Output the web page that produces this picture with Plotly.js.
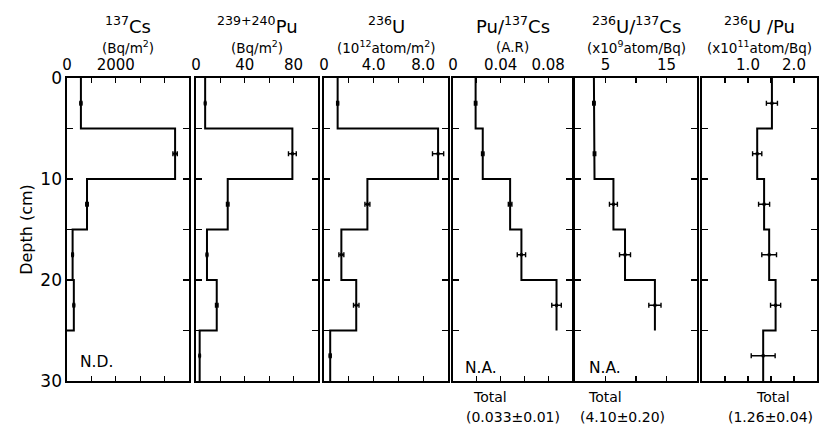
<!DOCTYPE html>
<html>
<head>
<meta charset="utf-8">
<script src="https://cdn.plot.ly/plotly-3.0.1.min.js"></script>
<style>html,body{margin:0;padding:0;background:#fff;}#chart{width:820px;height:431px;}</style>
</head>
<body>
<div id="chart"></div>
<script>
// ---- data ----
const depthTop = [0, 5, 10, 15, 20, 25];
const depthBot = [5, 10, 15, 20, 25, 30];
const depthMid = [2.5, 7.5, 12.5, 17.5, 22.5, 27.5];

const cs137    = [570, 4430, 820, 230, 280, null];      // Bq/m2, 25-30 N.D.
const cs137Err = [40, 90, 50, 30, 30, null];
const pu       = [7.5, 79, 26, 9, 17, 3];                // Bq/m2
const puErr    = [0.5, 3.2, 1.0, 0.6, 1.0, 0.3];
const u236     = [1.1, 9.2, 3.5, 1.4, 2.6, 0.5];         // 1e12 atom/m2
const u236Err  = [0.08, 0.45, 0.2, 0.2, 0.22, 0.08];
const puCs     = [0.019, 0.025, 0.048, 0.0575, 0.087, null]; // activity ratio
const puCsErr  = [0.001, 0.001, 0.0015, 0.0035, 0.004, null];
const uCs      = [3.1, 3.2, 6.3, 8.2, 13.1, null];       // x1e9 atom/Bq
const uCsErr   = [0.2, 0.2, 0.65, 0.9, 1.0, null];
const uPu      = [1.52, 1.2, 1.35, 1.46, 1.6, 1.33];     // x1e11 atom/Bq
const uPuErr   = [0.12, 0.1, 0.12, 0.16, 0.11, 0.26];

const titles = ['<sup>137</sup>Cs', '<sup>239+240</sup>Pu', '<sup>236</sup>U', 'Pu/<sup>137</sup>Cs', '<sup>236</sup>U/<sup>137</sup>Cs', '<sup>236</sup>U /Pu'];
const units  = ['(Bq/m<sup>2</sup>)', '(Bq/m<sup>2</sup>)', '(10<sup>12</sup>atom/m<sup>2</sup>)', '(A.R)', '(x10<sup>9</sup>atom/Bq)', '(x10<sup>11</sup>atom/Bq)'];
const ranges = [[0, 5000], [0, 100], [0, 10], [0, 0.1], [0, 20], [0, 2.5]];
const majorVals = [[0, 2000], [0, 40, 80], [0, 4, 8], [0, 0.04, 0.08], [5, 15], [1.0, 2.0]];
const majorText = [['0', '2000'], ['0', '40', '80'], ['0', '4.0', '8.0'], ['0', '0.04', '0.08'], ['5', '15'], ['1.0', '2.0']];
const minorVals = [[1000, 3000, 4000], [20, 60], [2, 6], [0.02, 0.06], [10], [0.5, 1.5]];
const depthMajor = [0, 10, 20, 30];
const depthMajorText = ['0', '10', '20', '30'];
const depthMinor = [5, 15, 25];

const totalsLbl = ['', '', '', '(0.033\u00B10.01)', '(4.10\u00B10.20)', '(1.26\u00B10.04)'];

// ---- layout geometry (pixels) ----
const W = 820, H = 431;
const panelPx = [[67, 189], [196, 318], [324, 448], [453, 572], [575, 697], [702, 817]];
const totalsX = [0, 0, 0, 513, 622, 770];
const plotTop = 78, plotBot = 381;
const px = x => x / W;
const py = y => 1 - y / H;

const series = [cs137, pu, u236, puCs, uCs, uPu];
const errs   = [cs137Err, puErr, u236Err, puCsErr, uCsErr, uPuErr];
const closeToAxis = [true, false, false, false, false, false];

function stepPath(vals, close) {
  const xs = [], ys = [];
  let last = -1;
  for (let i = 0; i < vals.length; i++) {
    if (vals[i] === null) break;
    xs.push(vals[i], vals[i]);
    ys.push(depthTop[i], depthBot[i]);
    last = i;
  }
  if (close && last >= 0) { xs.push(0); ys.push(depthBot[last]); }
  return {xs, ys};
}

const FONT = 'DejaVu Sans, Liberation Sans, Arial, sans-serif';
const traces = [];
const layout = {
  width: W, height: H,
  margin: {l: 0, r: 0, t: 0, b: 0, pad: 0},
  paper_bgcolor: '#fff', plot_bgcolor: '#fff',
  showlegend: false,
  font: {family: FONT, color: '#000'},
  annotations: []
};

for (let k = 0; k < 6; k++) {
  const n = k + 1;
  const xa = 'x' + (n === 1 ? '' : n), ya = 'y' + (n === 1 ? '' : n);
  const sp = stepPath(series[k], closeToAxis[k]);
  traces.push({x: sp.xs, y: sp.ys, xaxis: xa, yaxis: ya, mode: 'lines', type: 'scatter',
               line: {color: '#000', width: 2}, hoverinfo: 'skip'});
  const mx = [], my = [], me = [];
  series[k].forEach((v, i) => { if (v !== null) { mx.push(v); my.push(depthMid[i]); me.push(errs[k][i]); } });
  traces.push({x: mx, y: my, xaxis: xa, yaxis: ya, mode: 'markers', type: 'scatter',
               marker: {color: '#000', size: 3, symbol: 'square'},
               error_x: {type: 'data', array: me, visible: true, color: '#000', thickness: 1.4, width: 2.5},
               hoverinfo: 'skip'});

  const xKey = 'xaxis' + (n === 1 ? '' : n), yKey = 'yaxis' + (n === 1 ? '' : n);
  layout[xKey] = {
    domain: [px(panelPx[k][0]), px(panelPx[k][1])],
    anchor: ya, side: 'top', range: ranges[k], fixedrange: true,
    showline: true, mirror: 'ticks', linecolor: '#000', linewidth: 1.6,
    ticks: 'inside', ticklen: 5, tickwidth: 1.3, tickcolor: '#000',
    tickmode: 'array', tickvals: majorVals[k], ticktext: majorText[k],
    minor: {tickmode: 'array', tickvals: minorVals[k], ticks: 'inside', ticklen: 5, tickwidth: 1.3, tickcolor: '#000', showgrid: false},
    tickfont: {family: FONT, size: 15, color: '#000'},
    showgrid: false, zeroline: false
  };
  layout[yKey] = {
    domain: [py(plotBot), py(plotTop)],
    anchor: xa, range: [30, 0], fixedrange: true,
    showline: true, mirror: 'ticks', linecolor: '#000', linewidth: 1.6,
    ticks: 'inside', ticklen: 6, tickwidth: 1.3, tickcolor: '#000',
    tickmode: 'array', tickvals: depthMajor, ticktext: depthMajorText,
    minor: {tickmode: 'array', tickvals: depthMinor, ticks: 'inside', ticklen: 6, tickwidth: 1.3, tickcolor: '#000', showgrid: false},
    showticklabels: n === 1,
    tickfont: {family: FONT, size: 17, color: '#000'},
    showgrid: false, zeroline: false
  };
  if (n === 1) {
    layout[yKey].title = {text: 'Depth (cm)', font: {family: FONT, size: 16, color: '#000'}, standoff: 4};
  }

  const cx = (panelPx[k][0] + panelPx[k][1]) / 2;
  layout.annotations.push({xref: 'paper', yref: 'paper', x: px(cx), y: py(25), text: titles[k],
    showarrow: false, xanchor: 'center', yanchor: 'middle', font: {family: FONT, size: 18, color: '#000'}});
  layout.annotations.push({xref: 'paper', yref: 'paper', x: px(cx), y: py(47), text: units[k],
    showarrow: false, xanchor: 'center', yanchor: 'middle', font: {family: FONT, size: 13.5, color: '#000'}});
  if (totalsLbl[k]) {
    layout.annotations.push({xref: 'paper', yref: 'paper', x: px(totalsX[k]), y: py(417), text: totalsLbl[k],
      showarrow: false, xanchor: 'center', yanchor: 'middle', font: {family: FONT, size: 14, color: '#000'}});
  }
}

// notes inside panels and "Total" headings
const notes = [
  {t: 'N.D.', x: 78, y: 362, s: 15.5},
  {t: 'N.A.', x: 463, y: 368, s: 15.5},
  {t: 'N.A.', x: 587, y: 368, s: 15.5},
  {t: 'Total', x: 471, y: 397, s: 14},
  {t: 'Total', x: 586, y: 397, s: 14},
  {t: 'Total', x: 754, y: 397, s: 14}
];
notes.forEach(nt => layout.annotations.push({xref: 'paper', yref: 'paper', x: px(nt.x), y: py(nt.y), text: nt.t,
  showarrow: false, xanchor: 'left', yanchor: 'middle', font: {family: FONT, size: nt.s, color: '#000'}}));

Plotly.newPlot('chart', traces, layout, {displayModeBar: false, staticPlot: true});
</script>
</body>
</html>
